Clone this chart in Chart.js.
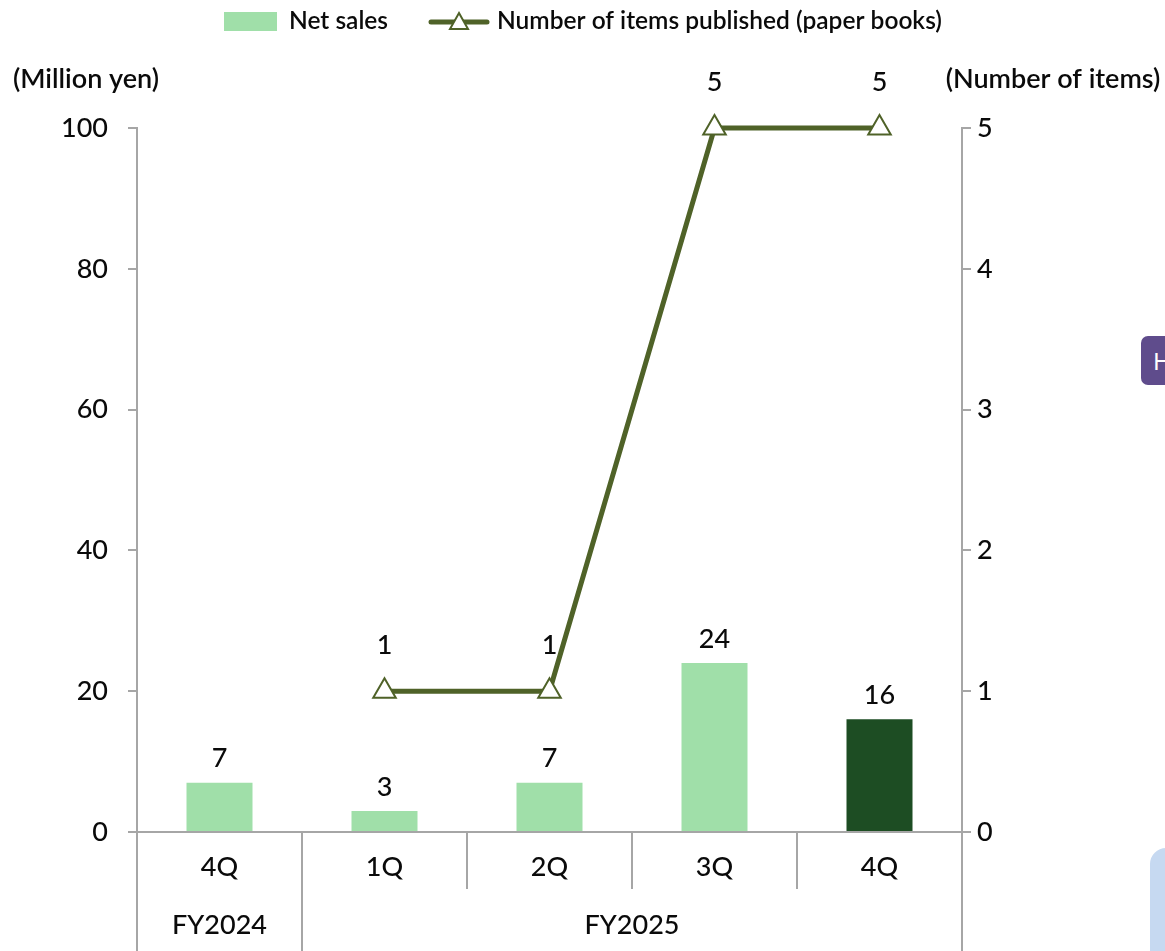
<!DOCTYPE html>
<html>
<head>
<meta charset="utf-8">
<script src="https://cdn.jsdelivr.net/npm/chart.js@4/dist/chart.umd.min.js"></script>
<style>
html,body{margin:0;padding:0;background:#fff;overflow:hidden;}
#wrap{position:relative;width:1165px;height:951px;}
canvas{display:block;}
#badge{position:absolute;left:1141px;top:336px;width:40px;height:49px;background:#5f4c8c;border-radius:7px;color:#fff;font:24px "Noto Sans",sans-serif;line-height:49px;padding-left:12px;box-sizing:border-box;}
#blue{position:absolute;left:1150px;top:848px;width:40px;height:120px;background:#c6d9f1;border-radius:16px;}
</style>
</head>
<body>
<div id="wrap">
<canvas id="c" width="1165" height="951"></canvas>
<div id="badge">H</div>
<div id="blue"></div>
</div>
<script>
// ---- data ----
const quarters = ['4Q', '1Q', '2Q', '3Q', '4Q'];
const fiscalYears = ['FY2024', 'FY2025'];
const fiscalYearSpans = [1, 4];
const netSales = [7, 3, 7, 24, 16];
const itemsPublished = [null, 1, 1, 5, 5];
const leftTicks = [0, 20, 40, 60, 80, 100];
const rightTicks = [0, 1, 2, 3, 4, 5];
const seriesNames = ['Net sales', 'Number of items published (paper books)'];
const axisTitles = ['(Million yen)', '(Number of items)'];

// ---- styles ----
const LIGHT = '#a0dfa9';
const DARK = '#1d4d23';
const OLIVE = '#4f6228';
const GRAY = '#a6a6a6';
const TXT = '#0a0a0a';
const FONT = 'Lato, "Noto Sans", sans-serif';
const TICKFONT = { family: FONT, size: 27, weight: 500 };
const barColors = netSales.map((v, i) => i === netSales.length - 1 ? DARK : LIGHT);

const overlay = {
  id: 'overlay',
  afterDraw(chart) {
    const ctx = chart.ctx;
    const area = chart.chartArea;
    const xs = chart.scales.x;
    const H = chart.height;
    const n = quarters.length;
    const step = (xs.getPixelForValue(1) - xs.getPixelForValue(0));
    const bound = i => xs.getPixelForValue(0) - step / 2 + i * step;
    ctx.save();
    // separators below the axis
    ctx.strokeStyle = GRAY;
    ctx.lineWidth = 2;
    const groupEdges = [0];
    let acc = 0;
    fiscalYearSpans.forEach(s => { acc += s; groupEdges.push(acc); });
    for (let i = 0; i <= n; i++) {
      const x = Math.round(bound(i));
      const full = groupEdges.includes(i);
      ctx.beginPath();
      ctx.moveTo(x, area.bottom);
      ctx.lineTo(x, full ? H : area.bottom + 57);
      ctx.stroke();
    }
    // fiscal year labels
    ctx.fillStyle = TXT;
    ctx.font = '500 27px ' + FONT;
    ctx.textAlign = 'center';
    ctx.textBaseline = 'middle';
    fiscalYears.forEach((fy, g) => {
      const cx = (bound(groupEdges[g]) + bound(groupEdges[g + 1])) / 2;
      ctx.fillText(fy, cx, area.bottom + 93);
    });
    // data labels
    const mb = chart.getDatasetMeta(0);
    mb.data.forEach((el, i) => {
      ctx.fillText(String(netSales[i]), el.x, el.y - 24);
    });
    const ml = chart.getDatasetMeta(1);
    ml.data.forEach((el, i) => {
      if (itemsPublished[i] == null) return;
      ctx.fillText(String(itemsPublished[i]), el.x, el.y - 46);
    });
    // axis titles
    ctx.font = '600 27px ' + FONT;
    ctx.fillText(axisTitles[0], 86, 79);
    ctx.fillText(axisTitles[1], 1053, 79);
    // legend
    ctx.fillStyle = LIGHT;
    ctx.fillRect(224, 12, 53, 19);
    ctx.fillStyle = TXT;
    ctx.textAlign = 'left';
    ctx.font = '600 24.5px ' + FONT;
    ctx.fillText(seriesNames[0], 289, 21);
    ctx.strokeStyle = OLIVE;
    ctx.lineWidth = 5;
    ctx.lineCap = 'round';
    ctx.beginPath();
    ctx.moveTo(431, 22); ctx.lineTo(487, 22);
    ctx.stroke();
    ctx.lineWidth = 2;
    ctx.fillStyle = '#fff';
    ctx.beginPath();
    ctx.moveTo(459, 13); ctx.lineTo(468, 29); ctx.lineTo(450, 29); ctx.closePath();
    ctx.fill(); ctx.stroke();
    ctx.fillStyle = TXT;
    ctx.fillText(seriesNames[1], 497, 21);
    ctx.restore();
  }
};

new Chart(document.getElementById('c'), {
  data: {
    labels: quarters,
    datasets: [
      {
        type: 'bar', label: seriesNames[0], data: netSales, yAxisID: 'y',
        backgroundColor: barColors, barPercentage: 0.4, categoryPercentage: 1.0, order: 1
      },
      {
        type: 'line', label: seriesNames[1], data: itemsPublished, yAxisID: 'y1',
        borderColor: OLIVE, borderWidth: 5, backgroundColor: '#fff',
        pointStyle: 'triangle', pointRadius: 13, pointBorderWidth: 2,
        pointBackgroundColor: '#fff', pointBorderColor: OLIVE, tension: 0, order: 0, clip: false
      }
    ]
  },
  options: {
    responsive: false,
    animation: false,
    events: [],
    layout: { padding: { top: 128, left: 0, right: 0, bottom: 0 } },
    plugins: { legend: { display: false }, tooltip: { enabled: false } },
    scales: {
      x: {
        offset: true,
        grid: { display: true, drawOnChartArea: false, drawTicks: false, color: GRAY, lineWidth: 0 },
        border: { display: true, color: GRAY, width: 2 },
        ticks: { color: TXT, font: TICKFONT, padding: 19 },
        afterFit(s) { s.height = 119; }
      },
      y: {
        position: 'left', min: 0, max: 100,
        afterBuildTicks(s) { s.ticks = leftTicks.map(v => ({ value: v })); },
        grid: { drawOnChartArea: false, drawTicks: true, tickLength: 9, color: GRAY, lineWidth: 2 },
        border: { display: true, color: GRAY, width: 2 },
        ticks: { color: TXT, font: TICKFONT, padding: 20 },
        afterFit(s) { s.width = 137; }
      },
      y1: {
        position: 'right', min: 0, max: 5,
        afterBuildTicks(s) { s.ticks = rightTicks.map(v => ({ value: v })); },
        grid: { drawOnChartArea: false, drawTicks: true, tickLength: 9, color: GRAY, lineWidth: 2 },
        border: { display: true, color: GRAY, width: 2 },
        ticks: { color: TXT, font: TICKFONT, padding: 6 },
        afterFit(s) { s.width = 203; }
      }
    }
  },
  plugins: [overlay]
});
</script>
</body>
</html>
